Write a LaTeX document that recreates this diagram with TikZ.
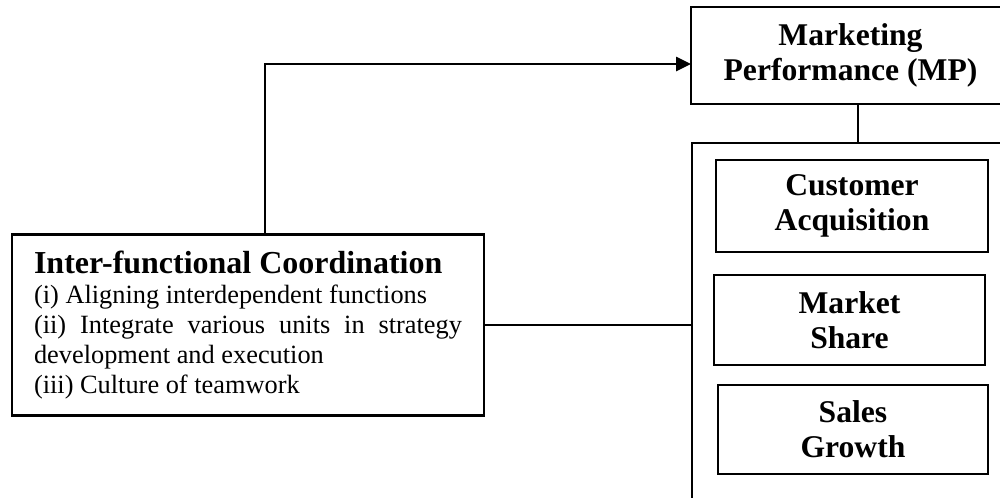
\documentclass[tikz,border=0pt]{standalone}
\usepackage{fontspec}
\setmainfont{Liberation Serif}
\usetikzlibrary{arrows.meta,positioning,calc}
\tikzset{
    box line/.style={line width=1.2pt},
    boxed/.style={draw,box line,rectangle,inner sep=0pt,outer sep=0pt},
    heading box/.style={boxed,align=center,font=\fontsize{18}{20}\selectfont\bfseries},
    arr/.style={-{Triangle[length=8.5pt,width=8pt]},box line},
    link/.style={box line},
}

\begin{document}
\begin{tikzpicture}[x=0.02cm,y=-0.02cm]
    \useasboundingbox (0,0) rectangle (1000,497);
    \clip (0,0) rectangle (1000,497);

    % outcome and its indicators
    \node[heading box,minimum width=6.38cm,minimum height=1.94cm] (MP) at (850.5,55.5)
    {Marketing\\Performance (MP)};
    \node[boxed,minimum width=6.36cm,minimum height=7.6cm] (Dims) at (851,333) {};
    \node[heading box,minimum width=5.44cm,minimum height=1.84cm] (CA) at (852,206)
    {Customer\\Acquisition};
    \node[heading box,minimum width=5.42cm,minimum height=1.8cm] (MS) at (849.5,320)
    {Market\\Share};
    \node[heading box,minimum width=5.4cm,minimum height=1.78cm] (SG) at (853,429.5)
    {Sales\\Growth};

    % predictor
    \node[boxed,minimum width=9.44cm,minimum height=3.62cm,
          text width=8.56cm,align=justify,font=\fontsize{15}{17}\selectfont] (IFC) at (248,325)
    {{\fontsize{18.2}{22}\selectfont\bfseries Inter-functional Coordination}\\
    (i) Aligning interdependent functions\\
    (ii) Integrate various units in strategy\linebreak development and execution\\
    (iii) Culture of teamwork};

    \coordinate (turn) at (265,64);
    \coordinate (drop) at (858,104);

    \draw[arr] (IFC.north -| turn) -- (turn) -- (turn -| MP.west);
    \draw[link] (drop) -- (drop |- Dims.north);
    \draw[link] (IFC.east) -- (IFC.east -| Dims.west);
\end{tikzpicture}
\end{document}
